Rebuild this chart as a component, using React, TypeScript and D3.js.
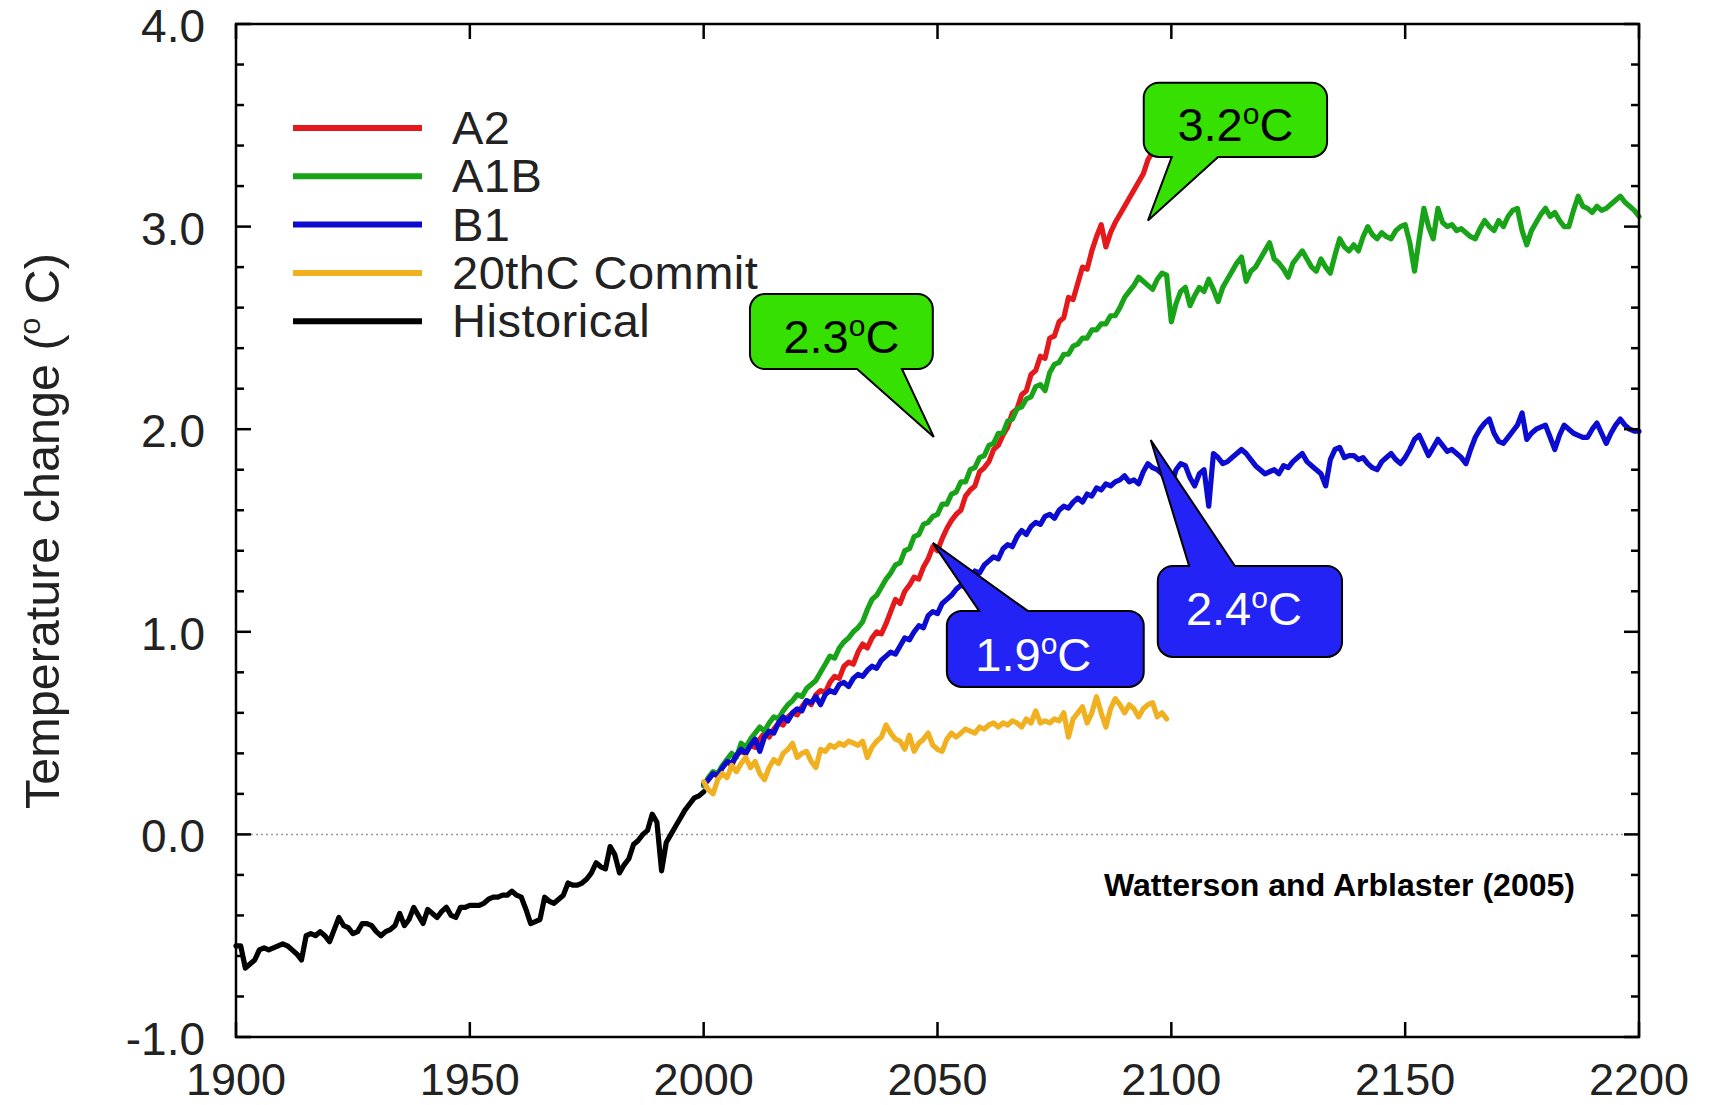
import React, { useEffect, useRef } from "react";
import * as d3 from "d3";

const yearDomain = [1900, 2200];
const tempDomain = [-1, 4];
const xTickValues = [1900, 1950, 2000, 2050, 2100, 2150, 2200];
const yTickValues = [-1, 0, 1, 2, 3, 4];
const yTickLabels = ["-1.0", "0.0", "1.0", "2.0", "3.0", "4.0"];

const historicalStart = 1900;
const historical = [
  -0.55, -0.55, -0.66, -0.64, -0.62, -0.57, -0.56, -0.57, -0.56, -0.55,
  -0.54, -0.55, -0.57, -0.59, -0.62, -0.5, -0.49, -0.5, -0.48, -0.5,
  -0.53, -0.47, -0.41, -0.45, -0.46, -0.49, -0.48, -0.44, -0.44, -0.45,
  -0.48, -0.5, -0.48, -0.47, -0.45, -0.39, -0.45, -0.42, -0.36, -0.4,
  -0.44, -0.37, -0.39, -0.41, -0.38, -0.36, -0.4, -0.41, -0.36, -0.36,
  -0.35, -0.35, -0.35, -0.34, -0.32, -0.31, -0.31, -0.3, -0.3, -0.28,
  -0.3, -0.31, -0.37, -0.44, -0.43, -0.42, -0.31, -0.33, -0.34, -0.32,
  -0.3, -0.24, -0.25, -0.25, -0.24, -0.22, -0.19, -0.14, -0.16, -0.17,
  -0.06, -0.1, -0.19, -0.15, -0.12, -0.05, -0.03, 0.0, 0.02, 0.1,
  0.06, -0.18, -0.04, 0.0, 0.04, 0.08, 0.12, 0.15, 0.18, 0.19,
  0.21,
];

const projectionStart = 2000;
const a2 = [
  0.24, 0.27, 0.3, 0.29, 0.33, 0.36, 0.34, 0.39, 0.41, 0.4,
  0.44, 0.43, 0.47, 0.5, 0.48, 0.52, 0.55, 0.54, 0.58, 0.6,
  0.59, 0.63, 0.66, 0.64, 0.69, 0.71, 0.7, 0.75, 0.78, 0.77,
  0.83, 0.85, 0.84, 0.9, 0.94, 0.92, 0.97, 1.0, 0.99, 1.04,
  1.1, 1.16, 1.14, 1.2, 1.23, 1.27, 1.26, 1.32, 1.36, 1.42,
  1.4, 1.46, 1.51, 1.55, 1.58, 1.6, 1.67, 1.7, 1.72, 1.79,
  1.81, 1.84, 1.9, 1.92, 1.97, 2.01, 2.08, 2.1, 2.17, 2.19,
  2.27, 2.29, 2.36, 2.35, 2.45, 2.46, 2.53, 2.55, 2.65, 2.64,
  2.72, 2.8, 2.79, 2.88, 2.95, 3.01, 2.9, 2.97, 3.02, 3.06,
  3.1, 3.14, 3.18, 3.22, 3.26, 3.33, 3.37, 3.4, 3.44, 3.47,
  3.5,
];

const a1b = [
  0.24, 0.28, 0.31, 0.3, 0.34, 0.37, 0.4, 0.38, 0.45, 0.43,
  0.47, 0.5, 0.53, 0.51, 0.55, 0.58, 0.57, 0.61, 0.64, 0.66,
  0.69, 0.68, 0.72, 0.74, 0.76, 0.8, 0.84, 0.88, 0.87, 0.92,
  0.95, 0.97, 1.0, 1.02, 1.05, 1.11, 1.16, 1.18, 1.22, 1.26,
  1.29, 1.33, 1.34, 1.4, 1.41, 1.47, 1.48, 1.53, 1.54, 1.57,
  1.58, 1.63, 1.63, 1.68, 1.69, 1.74, 1.74, 1.8, 1.81, 1.86,
  1.87, 1.92, 1.93, 1.98, 1.98, 2.04, 2.05, 2.1, 2.11, 2.15,
  2.16, 2.21, 2.22, 2.19, 2.28, 2.32, 2.33, 2.37, 2.37, 2.41,
  2.42, 2.45, 2.45, 2.49, 2.49, 2.52, 2.52, 2.56, 2.56, 2.6,
  2.65, 2.68, 2.71, 2.75, 2.73, 2.71, 2.69, 2.74, 2.77, 2.76,
  2.53, 2.62, 2.68, 2.7, 2.61, 2.66, 2.7, 2.68, 2.74, 2.69,
  2.63, 2.7, 2.74, 2.78, 2.82, 2.85, 2.73, 2.78, 2.8, 2.84,
  2.88, 2.92, 2.84, 2.82, 2.79, 2.75, 2.82, 2.85, 2.88, 2.84,
  2.8, 2.78, 2.84, 2.8, 2.77, 2.86, 2.94, 2.9, 2.88, 2.91,
  2.88, 2.95, 3.0, 2.96, 2.94, 2.97, 2.95, 2.94, 2.98, 3.0,
  3.01, 2.92, 2.78, 2.94, 3.09, 3.0, 2.94, 3.09, 3.02, 3.0,
  3.01, 2.98, 2.99, 2.97, 2.95, 2.94, 2.99, 3.03, 3.0, 2.98,
  3.03, 3.0, 3.05, 3.08, 3.09, 2.98, 2.91, 2.98, 3.02, 3.06,
  3.09, 3.05, 3.07, 3.03, 3.0, 3.0, 3.08, 3.15, 3.1, 3.09,
  3.07, 3.1, 3.08, 3.09, 3.11, 3.13, 3.15, 3.12, 3.1, 3.08,
  3.05,
];

const b1 = [
  0.25, 0.27, 0.3, 0.29, 0.33, 0.36, 0.35, 0.39, 0.42, 0.4,
  0.44, 0.47, 0.41, 0.48, 0.51, 0.5, 0.55, 0.58, 0.56, 0.6,
  0.62, 0.61, 0.66, 0.65, 0.68, 0.64, 0.69, 0.71, 0.7, 0.74,
  0.75, 0.73, 0.77, 0.79, 0.78, 0.81, 0.83, 0.82, 0.86, 0.88,
  0.9, 0.89, 0.93, 0.97, 0.96, 1.0, 1.03, 1.02, 1.08, 1.1,
  1.09, 1.14, 1.16, 1.18, 1.21, 1.23, 1.22, 1.27, 1.3, 1.29,
  1.33, 1.35, 1.37, 1.36, 1.41, 1.43, 1.42, 1.47, 1.5, 1.48,
  1.52, 1.54, 1.53, 1.57, 1.58, 1.56, 1.6, 1.62, 1.61, 1.64,
  1.66, 1.64, 1.68, 1.67, 1.71, 1.7, 1.73, 1.72, 1.74, 1.75,
  1.77, 1.74, 1.75, 1.73, 1.79, 1.83, 1.81, 1.8, 1.78, 1.74,
  1.72, 1.8, 1.83, 1.82, 1.76, 1.72, 1.78, 1.8, 1.62, 1.88,
  1.86, 1.83, 1.84, 1.86, 1.88, 1.9, 1.88, 1.85, 1.82, 1.8,
  1.78, 1.79, 1.8, 1.78, 1.82, 1.81, 1.84, 1.86, 1.88, 1.84,
  1.82, 1.8, 1.78, 1.72, 1.85, 1.9, 1.91, 1.86, 1.87, 1.87,
  1.85, 1.86, 1.83, 1.81, 1.8, 1.84, 1.86, 1.88, 1.85, 1.83,
  1.86, 1.9, 1.95, 1.97, 1.92, 1.87, 1.91, 1.95, 1.92, 1.89,
  1.9, 1.88, 1.86, 1.83, 1.9, 1.96, 2.0, 2.03, 2.05, 1.98,
  1.94, 1.93, 1.96, 1.99, 2.02, 2.08, 1.95, 1.98, 2.0, 2.01,
  2.02, 1.96, 1.9, 1.97, 2.02, 2.0, 1.98, 1.97, 1.96, 1.96,
  2.0, 2.03, 1.98, 1.93, 1.98, 2.02, 2.05, 2.02, 2.0, 1.99,
  1.99,
];

const commit = [
  0.26, 0.22, 0.2, 0.27, 0.3, 0.28, 0.34, 0.31, 0.35, 0.38,
  0.33, 0.36, 0.3, 0.27, 0.33, 0.37, 0.35, 0.4, 0.42, 0.45,
  0.38, 0.4, 0.41, 0.36, 0.33, 0.42, 0.41, 0.44, 0.43, 0.45,
  0.44, 0.46, 0.45, 0.44, 0.46, 0.38, 0.43, 0.46, 0.48, 0.54,
  0.5, 0.47, 0.46, 0.42, 0.49, 0.41, 0.45, 0.47, 0.5, 0.44,
  0.42, 0.41, 0.47, 0.5, 0.48, 0.5, 0.52, 0.51, 0.5, 0.53,
  0.52, 0.54, 0.55, 0.53, 0.55, 0.54, 0.56, 0.55, 0.53, 0.57,
  0.55, 0.61, 0.55, 0.56, 0.55, 0.57, 0.56, 0.6, 0.48, 0.57,
  0.6, 0.63, 0.55, 0.6, 0.68, 0.6, 0.53, 0.62, 0.67, 0.64,
  0.6, 0.64, 0.62, 0.58, 0.62, 0.64, 0.65, 0.58, 0.6, 0.57,
];

const legendNames = ["A2", "A1B", "B1", "20thC Commit", "Historical"];
const legendColors = ["#e3191c", "#18a318", "#0c0cd0", "#f0b020", "#000000"];

// speech-bubble callouts, in data units: box [left year, top value, right year, bottom value]
const callouts = [
  { label: "3.2", fill: "#36e000", ink: "#000", box: [2094.1, 3.71, 2133.3, 3.344], side: "bottom", base: [2100.1, 2110.0], tip: [2095.0, 3.03], dx: 0 },
  { label: "2.3", fill: "#36e000", ink: "#000", box: [2009.9, 2.667, 2049.0, 2.297], side: "bottom", base: [2032.8, 2042.4], tip: [2049.2, 1.962], dx: 0 },
  { label: "1.9", fill: "#2323f5", ink: "#fff", box: [2052.0, 1.103, 2094.1, 0.728], side: "top", base: [2058.9, 2069.3], tip: [2049.0, 1.439], dx: -12 },
  { label: "2.4", fill: "#2323f5", ink: "#fff", box: [2097.1, 1.325, 2136.5, 0.876], side: "top", base: [2103.8, 2113.6], tip: [2095.6, 1.947], dx: -6 },
];

const FONT = "'Liberation Sans', Arial, Helvetica, sans-serif";

function App() {
  const svgRef = useRef(null);

  useEffect(() => {
    const left = 236;
    const right = 1639;
    const top = 24;
    const bottom = 1037;

    const svg = d3.select(svgRef.current);
    svg.selectAll("*").remove();

    svg.append("rect").attr("width", 1717).attr("height", 1105).attr("fill", "#fff");

    const x = d3.scaleLinear().domain(yearDomain).range([left, right]);
    const y = d3.scaleLinear().domain(tempDomain).range([bottom, top]);

    // dotted zero line
    svg
      .append("line")
      .attr("x1", left)
      .attr("x2", right)
      .attr("y1", y(0))
      .attr("y2", y(0))
      .attr("stroke", "#9a9a9a")
      .attr("stroke-width", 1.5)
      .attr("stroke-dasharray", "2,3");

    const line = d3
      .line()
      .x((d) => x(d[0]))
      .y((d) => y(d[1]))
      .curve(d3.curveLinear);

    const toPoints = (vals, start) => vals.map((v, i) => [start + i, v]);

    const series = [
      { vals: a2, start: projectionStart, color: legendColors[0] },
      { vals: a1b, start: projectionStart, color: legendColors[1] },
      { vals: b1, start: projectionStart, color: legendColors[2] },
      { vals: commit, start: projectionStart, color: legendColors[3] },
      { vals: historical, start: historicalStart, color: legendColors[4] },
    ];

    svg
      .append("g")
      .selectAll("path")
      .data(series)
      .enter()
      .append("path")
      .attr("d", (s) => line(toPoints(s.vals, s.start)))
      .attr("fill", "none")
      .attr("stroke", (s) => s.color)
      .attr("stroke-width", 5.2)
      .attr("stroke-linejoin", "round")
      .attr("stroke-linecap", "round");

    // frame and inward ticks on all four sides
    const axes = svg.append("g").attr("stroke", "#000");
    axes
      .append("rect")
      .attr("x", left)
      .attr("y", top)
      .attr("width", right - left)
      .attr("height", bottom - top)
      .attr("fill", "none")
      .attr("stroke-width", 2.5);

    const minorY = d3.range(-1, 4.001, 0.2).filter((v) => Math.abs(v - Math.round(v)) > 0.01);
    yTickValues.forEach((v) => {
      axes.append("line").attr("x1", left).attr("x2", left + 15).attr("y1", y(v)).attr("y2", y(v)).attr("stroke-width", 2.5);
      axes.append("line").attr("x1", right).attr("x2", right - 15).attr("y1", y(v)).attr("y2", y(v)).attr("stroke-width", 2.5);
    });
    minorY.forEach((v) => {
      axes.append("line").attr("x1", left).attr("x2", left + 8).attr("y1", y(v)).attr("y2", y(v)).attr("stroke-width", 2.5);
      axes.append("line").attr("x1", right).attr("x2", right - 8).attr("y1", y(v)).attr("y2", y(v)).attr("stroke-width", 2.5);
    });
    xTickValues.forEach((v) => {
      axes.append("line").attr("x1", x(v)).attr("x2", x(v)).attr("y1", bottom).attr("y2", bottom - 15).attr("stroke-width", 2.5);
      axes.append("line").attr("x1", x(v)).attr("x2", x(v)).attr("y1", top).attr("y2", top + 15).attr("stroke-width", 2.5);
    });

    // tick labels
    svg
      .append("g")
      .selectAll("text")
      .data(yTickValues)
      .enter()
      .append("text")
      .attr("x", 205)
      .attr("y", (d) => y(d) + 18)
      .attr("text-anchor", "end")
      .attr("font-family", FONT)
      .attr("font-size", 46)
      .attr("fill", "#222")
      .text((d, i) => yTickLabels[i]);

    svg
      .append("g")
      .selectAll("text")
      .data(xTickValues)
      .enter()
      .append("text")
      .attr("x", (d) => x(d))
      .attr("y", 1095)
      .attr("text-anchor", "middle")
      .attr("font-family", FONT)
      .attr("font-size", 45)
      .attr("fill", "#222")
      .text((d) => d);

    // y axis title
    const yTitle = svg
      .append("text")
      .attr("transform", `translate(59, 531) rotate(-90)`)
      .attr("text-anchor", "middle")
      .attr("font-family", FONT)
      .attr("font-size", 48.5)
      .attr("fill", "#222");
    yTitle.append("tspan").text("Temperature change (");
    yTitle.append("tspan").attr("font-size", 30).attr("dy", -19).text("o");
    yTitle.append("tspan").attr("dy", 19).text(" C)");

    // legend
    const legend = svg.append("g");
    legendNames.forEach((name, i) => {
      const ly = 128 + i * 48.3;
      legend
        .append("line")
        .attr("x1", 293)
        .attr("x2", 422)
        .attr("y1", ly)
        .attr("y2", ly)
        .attr("stroke", legendColors[i])
        .attr("stroke-width", 6);
      legend
        .append("text")
        .attr("x", 452)
        .attr("y", ly + 16)
        .attr("font-family", FONT)
        .attr("font-size", 47)
        .attr("letter-spacing", 0.5)
        .attr("fill", "#222")
        .text(name);
    });

    // citation
    svg
      .append("text")
      .attr("x", 1104)
      .attr("y", 896)
      .attr("font-family", "'Liberation Sans Narrow', " + FONT)
      .attr("font-weight", "bold")
      .attr("font-size", 32)
      .attr("textLength", 471)
      .attr("lengthAdjust", "spacingAndGlyphs")
      .text("Watterson and Arblaster (2005)");

    // callouts
    const r = 15;
    callouts.forEach((c) => {
      const x0 = x(c.box[0]);
      const y0 = y(c.box[1]);
      const x1 = x(c.box[2]);
      const y1 = y(c.box[3]);
      const bA = x(c.base[0]);
      const bB = x(c.base[1]);
      const tx = x(c.tip[0]);
      const ty = y(c.tip[1]);
      const p = d3.path();
      p.moveTo(x0 + r, y0);
      if (c.side === "top") {
        p.lineTo(bA, y0);
        p.lineTo(tx, ty);
        p.lineTo(bB, y0);
      }
      p.lineTo(x1 - r, y0);
      p.arcTo(x1, y0, x1, y0 + r, r);
      p.lineTo(x1, y1 - r);
      p.arcTo(x1, y1, x1 - r, y1, r);
      if (c.side === "bottom") {
        p.lineTo(bB, y1);
        p.lineTo(tx, ty);
        p.lineTo(bA, y1);
      }
      p.lineTo(x0 + r, y1);
      p.arcTo(x0, y1, x0, y1 - r, r);
      p.lineTo(x0, y0 + r);
      p.arcTo(x0, y0, x0 + r, y0, r);
      p.closePath();

      svg
        .append("path")
        .attr("d", p.toString())
        .attr("fill", c.fill)
        .attr("stroke", "#000")
        .attr("stroke-width", 2)
        .attr("stroke-linejoin", "miter");

      const t = svg
        .append("text")
        .attr("x", (x0 + x1) / 2 + c.dx)
        .attr("y", y1 - (c.side === "top" && y1 - y0 > 85 ? 32 : 16))
        .attr("text-anchor", "middle")
        .attr("font-family", FONT)
        .attr("font-size", 47)
        .attr("fill", c.ink);
      t.append("tspan").text(c.label);
      t.append("tspan").attr("font-size", 30).attr("dy", -17).text("o");
      t.append("tspan").attr("dy", 17).text("C");
    });
  }, []);

  return (
    <div>
      <svg
        ref={svgRef}
        width={1717}
        height={1105}
        style={{ position: "absolute", left: 0, top: 0, display: "block" }}
      ></svg>
    </div>
  );
}

export default App;
